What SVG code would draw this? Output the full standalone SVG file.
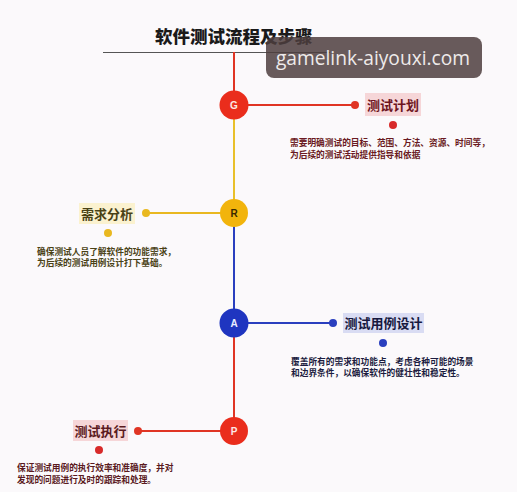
<svg xmlns="http://www.w3.org/2000/svg" width="517" height="492" viewBox="0 0 517 492">
<style>
.ttl{font-family:"Noto Sans CJK SC","Noto Sans",sans-serif;font-weight:900;}
.lbl{font-family:"Noto Sans CJK SC","Noto Sans",sans-serif;font-weight:700;font-size:13px;}
.desc{font-family:"Noto Sans CJK SC","Noto Sans",sans-serif;font-weight:700;font-size:8.7px;}
.let{font-family:"Liberation Sans",Arial,sans-serif;font-weight:700;font-size:10px;text-anchor:middle;}
</style>
<rect width="517" height="492" fill="#fbf9fb"/>
<text class="ttl" x="155" y="43" font-size="17.5" fill="#1a1a1a">软件测试流程及步骤</text>
<line x1="103" y1="52.5" x2="330" y2="52.5" stroke="#555" stroke-width="1.2"/>
<g id="connectors" stroke-width="2" fill="none">
<line x1="234" y1="52" x2="234" y2="105" stroke="#e03524"/>
<line x1="234" y1="105" x2="234" y2="213" stroke="#e9c02a"/>
<line x1="234" y1="213" x2="234" y2="323" stroke="#2a3fbf"/>
<line x1="234" y1="323" x2="234" y2="431" stroke="#e03524"/>
<line x1="234" y1="105" x2="355" y2="105" stroke="#e03524"/>
<line x1="234" y1="213" x2="146" y2="213" stroke="#e9b820"/>
<line x1="234" y1="323" x2="333" y2="323" stroke="#2a3fbf"/>
<line x1="234" y1="431" x2="138" y2="431" stroke="#e03524"/>
</g>
<g id="G">
<circle cx="234" cy="105" r="14.5" fill="#ea2d1c"/>
<text class="let" x="234" y="108.5" fill="#fde8e4">G</text>
<circle cx="355" cy="105" r="4" fill="#e03524"/>
<rect x="365" y="93" width="56" height="23" fill="#f6d6d8"/>
<text class="lbl" x="393" y="109.5" text-anchor="middle" fill="#6e1420">测试计划</text>
<circle cx="393" cy="125" r="4" fill="#d82a2a"/>
<text class="desc" x="290" y="146" fill="#6a1a22">需要明确测试的目标、范围、方法、资源、时间等，</text>
<text class="desc" x="290" y="157.8" fill="#6a1a22">为后续的测试活动提供指导和依据</text>
</g>
<g id="R">
<circle cx="234" cy="213" r="14" fill="#f2b40c"/>
<text class="let" x="234" y="216.5" fill="#3a2a00">R</text>
<circle cx="146" cy="213" r="4" fill="#e9b820"/>
<rect x="79" y="203" width="56" height="21" fill="#fbf2cf"/>
<text class="lbl" x="107" y="218.5" text-anchor="middle" fill="#4a4216">需求分析</text>
<circle cx="108" cy="233" r="4" fill="#e9b820"/>
<text class="desc" x="37" y="254.5" fill="#4a4216">确保测试人员了解软件的功能需求，</text>
<text class="desc" x="37" y="266.3" fill="#4a4216">为后续的测试用例设计打下基础。</text>
</g>
<g id="A">
<circle cx="234" cy="323" r="14.5" fill="#1f35c0"/>
<text class="let" x="234" y="326.5" fill="#e8ecff">A</text>
<circle cx="333" cy="323" r="4" fill="#2a3fbf"/>
<rect x="343" y="313" width="81" height="20" fill="#d9dcf3"/>
<text class="lbl" x="383.5" y="328" text-anchor="middle" fill="#16183e">测试用例设计</text>
<circle cx="383" cy="343" r="4" fill="#2a3fbf"/>
<text class="desc" x="291" y="364.5" fill="#1c1c40">覆盖所有的需求和功能点，考虑各种可能的场景</text>
<text class="desc" x="291" y="376.3" fill="#1c1c40">和边界条件，以确保软件的健壮性和稳定性。</text>
</g>
<g id="P">
<circle cx="234" cy="431" r="14" fill="#ea2d1c"/>
<text class="let" x="234" y="434.5" fill="#fde8e4">P</text>
<circle cx="138" cy="431" r="4" fill="#e03524"/>
<rect x="73" y="420" width="55" height="21" fill="#f6d6d8"/>
<text class="lbl" x="100.5" y="435.5" text-anchor="middle" fill="#5a1a1e">测试执行</text>
<circle cx="99" cy="450" r="4" fill="#d82a2a"/>
<text class="desc" x="17" y="471" fill="#5a1a1e">保证测试用例的执行效率和准确度，并对</text>
<text class="desc" x="17" y="482.8" fill="#5a1a1e">发现的问题进行及时的跟踪和处理。</text>
</g>
<g id="watermark">
<rect x="266" y="37" width="216" height="41" rx="8" fill="#4d3e3e" fill-opacity="0.85"/>
<text x="373" y="64.5" text-anchor="middle" font-family="'Open Sans','Noto Sans',sans-serif" font-size="19.2" fill="#eeeaea">gamelink-aiyouxi.com</text>
</g>
</svg>
